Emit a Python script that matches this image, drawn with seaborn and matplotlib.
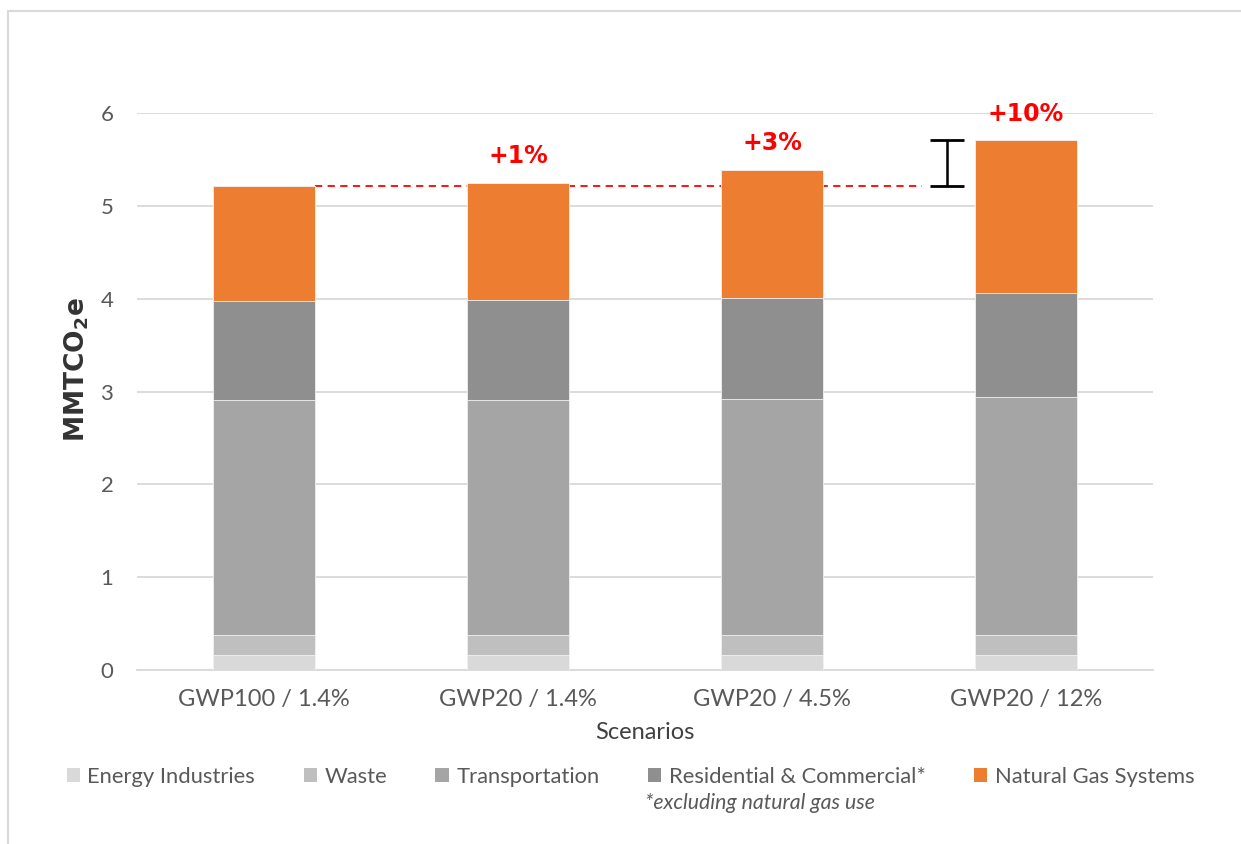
import matplotlib
matplotlib.use("Agg")
import matplotlib.pyplot as plt
from matplotlib.patches import Patch
from matplotlib.lines import Line2D
import seaborn as sns
import pandas as pd
import numpy as np

# ---- data ----
scenarios = ["GWP100 / 1.4%", "GWP20 / 1.4%", "GWP20 / 4.5%", "GWP20 / 12%"]
sectors = ["Energy Industries", "Waste", "Transportation",
           "Residential & Commercial*", "Natural Gas Systems"]
energy_industries = [0.16, 0.16, 0.16, 0.16]
waste = [0.22, 0.22, 0.22, 0.22]
transportation = [2.53, 2.53, 2.54, 2.56]
residential_commercial = [1.07, 1.08, 1.09, 1.12]
natural_gas_systems = [1.23, 1.26, 1.38, 1.65]
pct_labels = ["", "+1%", "+3%", "+10%"]
colors = ["#d9d9d9", "#bfbfbf", "#a5a5a5", "#8f8f8f", "#ed7d31"]

series = [energy_industries, waste, transportation, residential_commercial, natural_gas_systems]

sns.set_style("white")
plt.rcParams["font.family"] = ["Lato", "DejaVu Sans"]

fig = plt.figure(figsize=(12.41, 8.44), dpi=100)
ax = fig.add_axes([137 / 1241, 1 - 670 / 844, (1153 - 137) / 1241, (670 - 113) / 844])

cum = np.cumsum(np.array(series), axis=0)
rows = []
for i, sec in enumerate(sectors):
    for j, sc in enumerate(scenarios):
        rows.append({"scenario": sc, "sector": sec, "top": cum[i][j]})
df = pd.DataFrame(rows)

# draw stacked bars: tallest first, then each lower layer on top
for i in range(len(sectors) - 1, -1, -1):
    sub = df[df["sector"] == sectors[i]]
    sns.barplot(data=sub, x="scenario", y="top", order=scenarios, color=colors[i],
                width=0.4, ax=ax, saturation=1, edgecolor="#f2f2f2", linewidth=0.6,
                zorder=3)

totals = cum[-1]
base = totals[0]

txt = "#595959"
ax.set_ylim(0, 6)
ax.set_xlim(-0.5, 3.5)
ax.set_yticks(range(0, 7))
ax.yaxis.grid(True, color="#d9d9d9", linewidth=1.3, zorder=0)
ax.set_axisbelow(True)
for s in ["top", "right", "left"]:
    ax.spines[s].set_visible(False)
ax.spines["bottom"].set_color("#d9d9d9")
ax.spines["bottom"].set_linewidth(1.3)
ax.tick_params(axis="y", length=0, pad=17, labelsize=16, labelcolor=txt)
ax.tick_params(axis="x", length=0, pad=14, labelsize=17, labelcolor=txt)

ax.set_xlabel("Scenarios", fontsize=17, color="#404040", labelpad=8)
ax.set_ylabel(r"MMTCO$_\mathbf{2}$e", fontsize=19, color="#333333", fontweight="bold",
              family="DejaVu Sans")
ax.yaxis.set_label_coords(-0.045, 0.54)

# dashed reference line at the baseline total
ax.plot([0.2, 2.59], [base, base], color="#ff0000", linestyle=(0, (4, 3)), linewidth=1.3, zorder=2)

# bracket showing the increase
ax.errorbar([2.69], [(base + totals[3]) / 2], yerr=[(totals[3] - base) / 2], color="black",
            capsize=12, capthick=2, elinewidth=1.8, zorder=4)

for j, lab in enumerate(pct_labels):
    if lab:
        ax.annotate(lab, (j, totals[j]), xytext=(0, 19), textcoords="offset points",
                    ha="center", va="center", color="#ff0000", fontsize=17,
                    fontweight="bold", family="DejaVu Sans", annotation_clip=False)

handles = [Patch(facecolor=c, edgecolor="none") for c in colors]
leg = fig.legend(handles, sectors, loc="center", bbox_to_anchor=(0.508, 1 - 777 / 844), ncol=5,
                 frameon=False, fontsize=15.8, handlelength=0.6, handleheight=0.6,
                 handletextpad=0.35, columnspacing=2.2)
for t in leg.get_texts():
    t.set_color(txt)

fig.text(645 / 1241, 1 - 803 / 844, "*excluding natural gas use", fontsize=15.3, style="italic",
         color=txt, ha="left", va="center")

# frame lines (top and left of chart area)
fig.add_artist(Line2D([8 / 1241, 1], [1 - 11 / 844, 1 - 11 / 844], color="#d9d9d9", linewidth=1.5))
fig.add_artist(Line2D([8 / 1241, 8 / 1241], [0, 1 - 11 / 844], color="#d9d9d9", linewidth=1.5))

fig.savefig("out.png", dpi=100)
